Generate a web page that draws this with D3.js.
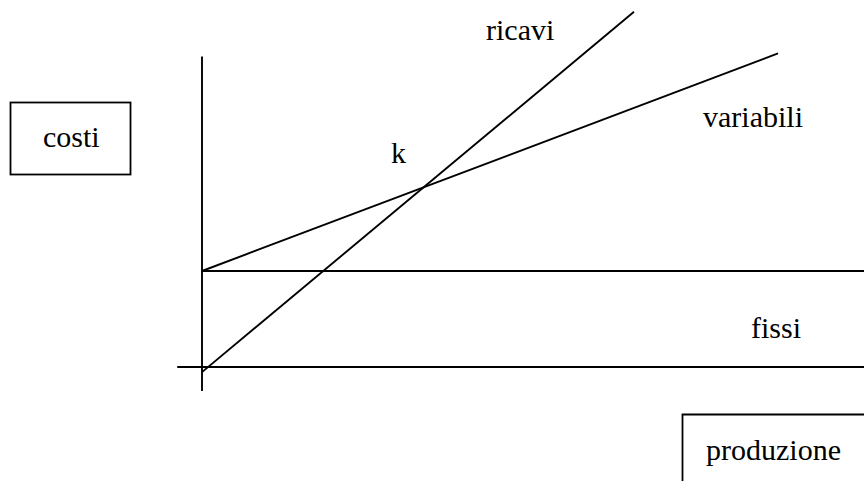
<!DOCTYPE html>
<html>
<head>
<meta charset="utf-8">
<script src="https://cdn.jsdelivr.net/npm/d3@7"></script>
<style>
  html, body { margin: 0; padding: 0; background: #fff; }
  svg text { font-family: "Liberation Serif", "Times New Roman", serif; font-size: 30px; fill: #000; }
</style>
</head>
<body>
<div id="chart"></div>
<script>
// break-even chart values (production on x, costs on y)
const fixedCost = 30;          // costi fissi
const variableLine = [[0, 30], [100, 98]];     // costi variabili (fixed + variable)
const revenueLine = [[0, -1.6], [75, 111]];    // ricavi
const axisX = [-4.3, 115];     // extent of the production axis
const axisY = [-7.5, 97];      // extent of the cost axis
const breakEven = [38.7, 56.5]; // k

function init() {
    var w = 864; // chart width
    var h = 481; // chart height

    var x = d3.scaleLinear().domain([0, 100]).range([202, 778]);
    var y = d3.scaleLinear().domain([0, 100]).range([367, 47]);

    var svg = d3.select("#chart")
        .append("svg")
        .attr("width", w)
        .attr("height", h);

    var line = d3.line()
        .x(function (d) { return x(d[0]); })
        .y(function (d) { return y(d[1]); });

    var lines = [
        [[axisX[0], 0], [axisX[1], 0]],          // production axis
        [[0, axisY[0]], [0, axisY[1]]],          // cost axis
        [[0, fixedCost], [axisX[1], fixedCost]], // fissi
        variableLine,
        revenueLine
    ];

    svg.selectAll("path.l")
        .data(lines)
        .enter()
        .append("path")
        .attr("class", "l")
        .attr("d", line)
        .attr("fill", "none")
        .attr("stroke", "#000")
        .attr("stroke-width", 1.9);

    // labels
    svg.append("text").attr("x", 486).attr("y", 40).text("ricavi");
    svg.append("text").attr("x", 703).attr("y", 127).text("variabili");
    svg.append("text").attr("x", x(breakEven[0]) - 34).attr("y", 163).text("k");
    svg.append("text").attr("x", 751).attr("y", 338).text("fissi");

    // boxed axis titles
    svg.append("rect")
        .attr("x", 10.5).attr("y", 102.5)
        .attr("width", 120).attr("height", 72)
        .attr("fill", "none").attr("stroke", "#000").attr("stroke-width", 1.8);
    svg.append("text").attr("x", 43).attr("y", 147).text("costi");

    svg.append("path")
        .attr("d", "M682.5," + h + "V414.5H" + w)
        .attr("fill", "none").attr("stroke", "#000").attr("stroke-width", 1.8);
    svg.append("text").attr("x", 706).attr("y", 460).text("produzione");
}
window.onload = init;
</script>
</body>
</html>
